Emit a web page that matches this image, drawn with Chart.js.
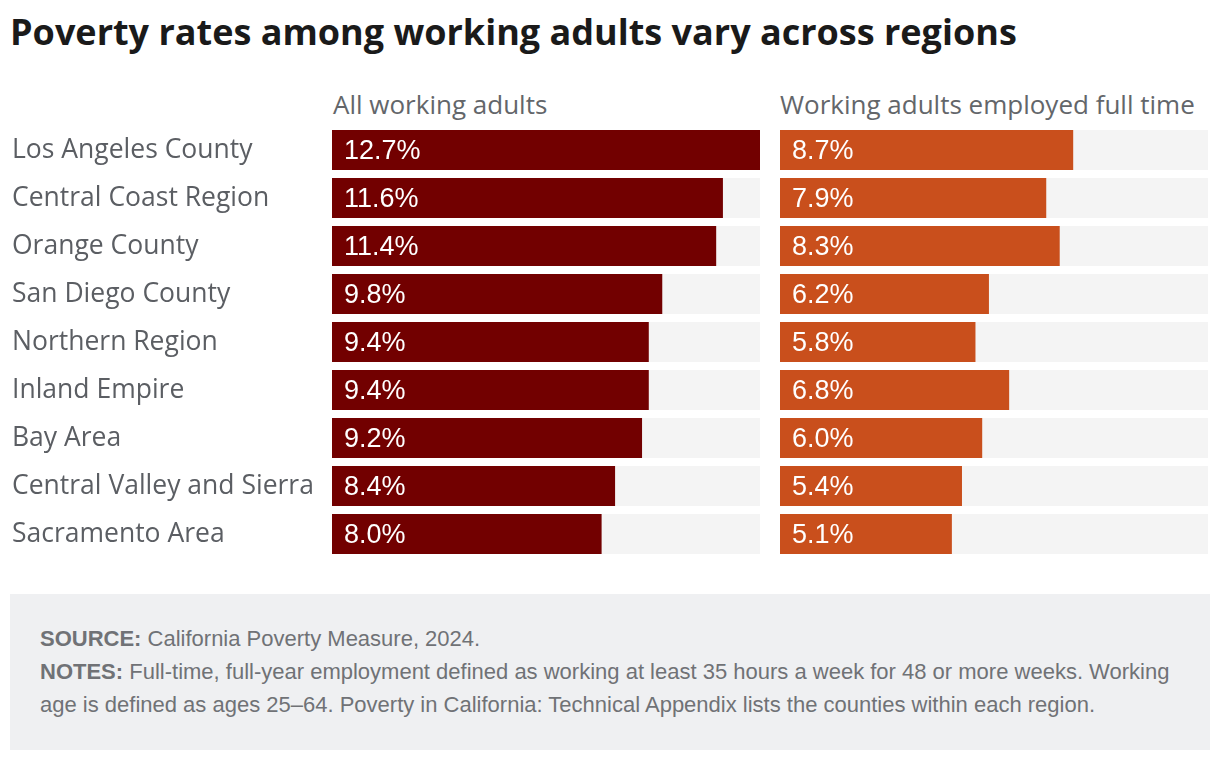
<!DOCTYPE html>
<html>
<head>
<meta charset="utf-8">
<title>Poverty rates among working adults</title>
<script src="https://cdn.jsdelivr.net/npm/chart.js@4/dist/chart.umd.min.js"></script>
<style>
    body {
        margin: 0;
        width: 1220px;
        height: 760px;
        background: #fff;
        position: relative;
        overflow: hidden;
        font-family: "Open Sans", Lato, sans-serif;
    }
    h1 {
        position: absolute;
        left: 10px;
        top: 7px;
        margin: 0;
        font-size: 36px;
        font-weight: 700;
        color: #1a1a1a;
        letter-spacing: 0;
    }
    .panel-title {
        position: absolute;
        top: 86px;
        font-size: 26px;
        color: #63666a;
    }
    .chart-box {
        position: absolute;
        top: 126px;
        height: 432px;
    }
    .footer {
        position: absolute;
        left: 10px;
        top: 594px;
        width: 1140px;
        height: 128px;
        padding: 28px 30px 0 30px;
        background: #eff0f2;
        color: #707276;
        font-family: "Liberation Sans", Arial, sans-serif;
        font-size: 22px;
        line-height: 33px;
    }
    .footer b { font-weight: 700; }
</style>
</head>
<body>
<h1>Poverty rates among working adults vary across regions</h1>
<div class="panel-title" style="left:333px">All working adults</div>
<div class="panel-title" style="left:780px">Working adults employed full time</div>
<div class="chart-box" style="left:0;width:760px"><canvas id="allChart"></canvas></div>
<div class="chart-box" style="left:780px;width:428px"><canvas id="fullTimeChart"></canvas></div>
<div class="footer">
    <b>SOURCE:</b> California Poverty Measure, 2024.<br>
    <b>NOTES:</b> Full-time, full-year employment defined as working at least 35 hours a week for 48 or more weeks. Working age is defined as ages 25–64. Poverty in California: Technical Appendix lists the counties within each region.
</div>

<script>
// Chart data
const regions = [
    'Los Angeles County',
    'Central Coast Region',
    'Orange County',
    'San Diego County',
    'Northern Region',
    'Inland Empire',
    'Bay Area',
    'Central Valley and Sierra',
    'Sacramento Area'
];
const allWorking = [12.7, 11.6, 11.4, 9.8, 9.4, 9.4, 9.2, 8.4, 8.0];
const fullTime = [8.7, 7.9, 8.3, 6.2, 5.8, 6.8, 6.0, 5.4, 5.1];
const scaleMax = 12.7;

// Draw value labels inside the bars
const valueLabels = {
    id: 'valueLabels',
    afterDatasetsDraw(chart) {
        const ctx = chart.ctx;
        const meta = chart.getDatasetMeta(0);
        const values = chart.data.datasets[0].data;
        ctx.save();
        ctx.fillStyle = '#fff';
        ctx.font = '27px "Liberation Sans", Arial, sans-serif';
        ctx.textAlign = 'left';
        ctx.textBaseline = 'middle';
        meta.data.forEach((bar, i) => {
            ctx.fillText(values[i].toFixed(1) + '%', bar.base + 12, bar.y + 2);
        });
        ctx.restore();
    }
};

function makeChart(canvasId, values, color, showLabels) {
    const ctx = document.getElementById(canvasId).getContext('2d');
    return new Chart(ctx, {
        type: 'bar',
        data: {
            labels: regions,
            datasets: [{
                data: values,
                backgroundColor: color,
                order: 1
            }, {
                // light gray track behind each bar
                data: regions.map(() => scaleMax),
                backgroundColor: '#f4f4f4',
                order: 2
            }]
        },
        options: {
            indexAxis: 'y',
            responsive: true,
            maintainAspectRatio: false,
            animation: false,
            layout: {
                padding: { left: showLabels ? 12 : 0, right: 0, top: 0, bottom: 0 }
            },
            datasets: {
                bar: {
                    grouped: false,
                    barPercentage: 40 / 48,
                    categoryPercentage: 1,
                    borderWidth: 0
                }
            },
            plugins: {
                legend: { display: false },
                tooltip: { enabled: false }
            },
            scales: {
                x: {
                    display: false,
                    min: 0,
                    max: scaleMax
                },
                y: {
                    display: showLabels,
                    grid: { display: false },
                    border: { display: false },
                    afterFit: function(axis) {
                        // fixed label column, no extra padding above/below the rows
                        axis.width = showLabels ? 320 : 0;
                        axis.paddingTop = 0;
                        axis.paddingBottom = 0;
                    },
                    ticks: {
                        crossAlign: 'far',
                        color: '#5b5e63',
                        font: { family: '"Open Sans", Lato, sans-serif', size: 26.5 }
                    }
                }
            }
        },
        plugins: [valueLabels]
    });
}

document.addEventListener('DOMContentLoaded', function() {
    makeChart('allChart', allWorking, '#720000', true);
    makeChart('fullTimeChart', fullTime, '#c94f1c', false);
});
</script>
</body>
</html>
